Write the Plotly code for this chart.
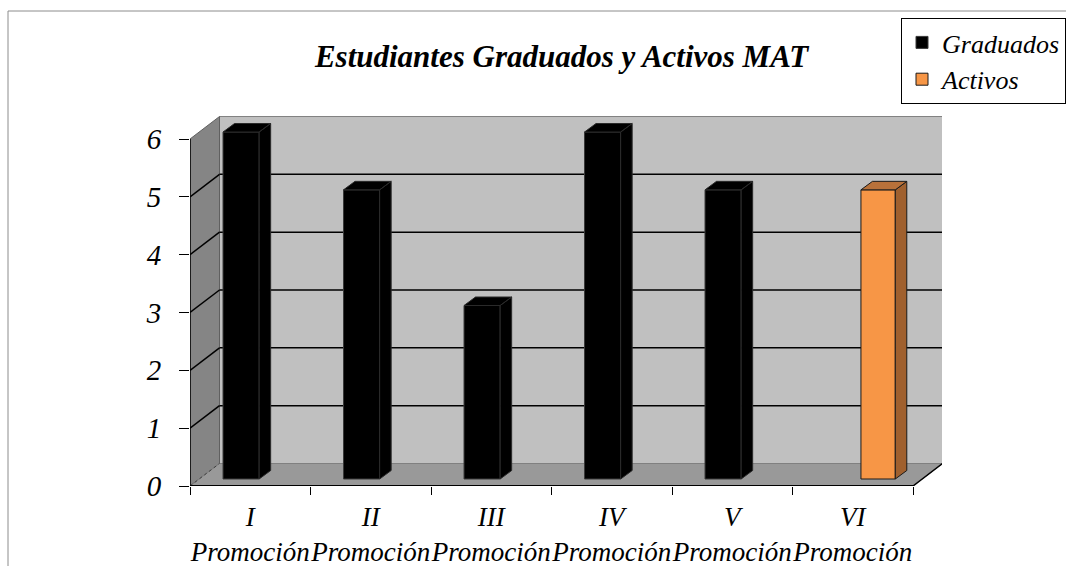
import plotly.graph_objects as go

# ---------------- data ----------------
categories = ["I<br>Promoción", "II<br>Promoción", "III<br>Promoción",
              "IV<br>Promoción", "V<br>Promoción", "VI<br>Promoción"]
graduados = [6, 5, 3, 6, 5, None]
activos = [None, None, None, None, None, 5]
y_ticks = [0, 1, 2, 3, 4, 5, 6]

# ---------------- layout constants ----------------
W, H = 1066, 566
ML, MR, MT, MB = 190, 124, 116, 80
PW, PH = W - ML - MR, H - MT - MB
XU = 120.5            # px per category
YU = 57.83            # px per unit
XR = [-0.5, -0.5 + PW / XU]
YR = [0, PH / YU]
BAR_SHIFT = 7 / YU    # front faces of bars sit slightly behind the axis
Y2R = [YR[0] - BAR_SHIFT, YR[1] - BAR_SHIFT]
DXW, DYW = 29.5 / XU, 22.5 / YU   # wall depth
BDX, BDY = 11.5 / XU, 8.5 / YU    # bar depth

FONT = "Liberation Serif"
idx = list(range(len(categories)))
n = len(categories)
top = max(y_ticks)


def px(x):
    return (x - ML) / PW


def py(y):
    return (H - MB - y) / PH


fig = go.Figure()

G_OFF, G_W = -0.226, 0.30
A_OFF, A_W = 0.068, 0.285

fig.add_trace(go.Bar(name="Graduados", x=idx, y=graduados, yaxis="y2",
                     offset=G_OFF, width=G_W,
                     marker=dict(color="#000000", line=dict(color="#3a3a3a", width=1)),
                     hoverinfo="skip"))
fig.add_trace(go.Bar(name="Activos", x=idx, y=activos, yaxis="y2",
                     offset=A_OFF, width=A_W,
                     marker=dict(color="#F79646", line=dict(color="#1a1a1a", width=1)),
                     hoverinfo="skip"))


def extrusion(values, off, w):
    sx, sy, tx, ty = [], [], [], []
    for i, v in zip(idx, values):
        if v is None:
            continue
        l, r = i + off, i + off + w
        # side face
        sx += [r, r + BDX, r + BDX, r, r, None]
        sy += [0, BDY, v + BDY, v, 0, None]
        # top face
        tx += [l, r, r + BDX, l + BDX, l, None]
        ty += [v, v, v + BDY, v + BDY, v, None]
    return sx, sy, tx, ty


sx, sy, tx, ty = extrusion(graduados, G_OFF, G_W)
fig.add_trace(go.Scatter(x=sx + tx, y=sy + ty, yaxis="y2", mode="lines", fill="toself",
                         fillcolor="#000000", line=dict(color="#2a2a2a", width=1),
                         showlegend=False, hoverinfo="skip"))
sx, sy, tx, ty = extrusion(activos, A_OFF, A_W)
fig.add_trace(go.Scatter(x=sx, y=sy, yaxis="y2", mode="lines", fill="toself",
                         fillcolor="#A0602E", line=dict(color="#1a1a1a", width=1),
                         showlegend=False, hoverinfo="skip"))
fig.add_trace(go.Scatter(x=tx, y=ty, yaxis="y2", mode="lines", fill="toself",
                         fillcolor="#B8713A", line=dict(color="#1a1a1a", width=1),
                         showlegend=False, hoverinfo="skip"))

# ---------------- 3D walls ----------------
x0, x1 = -0.5, n - 0.5
shapes = []
# back wall
shapes.append(dict(type="rect", xref="x", yref="y", x0=x0 + DXW, x1=x1 + DXW,
                   y0=DYW, y1=top + DYW, fillcolor="#C0C0C0",
                   line=dict(color="#808080", width=1), layer="below"))
# side wall
shapes.append(dict(type="path", xref="x", yref="y",
                   path=f"M {x0},0 L {x0},{top} L {x0 + DXW},{top + DYW} L {x0 + DXW},{DYW} Z",
                   fillcolor="#858585", line=dict(color="#606060", width=1), layer="below"))
# floor
shapes.append(dict(type="path", xref="x", yref="y",
                   path=f"M {x0},0 L {x0 + DXW},{DYW} L {x1 + DXW},{DYW} L {x1},0 Z",
                   fillcolor="#999999", line=dict(color="#808080", width=1), layer="below"))
# gridlines
for v in y_ticks:
    if v == 0:
        shapes.append(dict(type="line", xref="x", yref="y", x0=x0, y0=0, x1=x0 + DXW, y1=DYW,
                           line=dict(color="#404040", width=1, dash="dot"), layer="below"))
        continue
    if v == top:
        continue
    shapes.append(dict(type="line", xref="x", yref="y", x0=x0 + DXW, y0=v + DYW,
                       x1=x1 + DXW, y1=v + DYW, line=dict(color="#000000", width=1.5),
                       layer="below"))
    shapes.append(dict(type="line", xref="x", yref="y", x0=x0, y0=v, x1=x0 + DXW, y1=v + DYW,
                       line=dict(color="#000000", width=1.5), layer="below"))
# front floor edge and right edge
shapes.append(dict(type="line", xref="x", yref="y", x0=x0, y0=0, x1=x1, y1=0,
                   line=dict(color="#000000", width=2)))
shapes.append(dict(type="line", xref="x", yref="y", x0=x1, y0=0, x1=x1 + DXW, y1=DYW,
                   line=dict(color="#000000", width=1.5)))
# y axis line
shapes.append(dict(type="line", xref="x", yref="y", x0=x0, y0=0, x1=x0, y1=top,
                   line=dict(color="#000000", width=1.5)))
# chart area border (left and top)
shapes.append(dict(type="line", xref="paper", yref="paper", x0=px(8), y0=py(11),
                   x1=px(W), y1=py(11), line=dict(color="#8c8c8c", width=1)))
shapes.append(dict(type="line", xref="paper", yref="paper", x0=px(8), y0=py(11),
                   x1=px(8), y1=py(H), line=dict(color="#8c8c8c", width=1)))

fig.update_layout(
    width=W, height=H,
    margin=dict(l=ML, r=MR, t=MT, b=MB, autoexpand=False),
    paper_bgcolor="white", plot_bgcolor="white",
    barmode="overlay",
    shapes=shapes,
    title=dict(text="Estudiantes Graduados y Activos MAT",
               font=dict(family=FONT, size=31, color="black", weight="bold", style="italic"),
               x=px(561.5), xref="paper", xanchor="center",
               y=1 - 56 / H, yref="container", yanchor="middle"),
    xaxis=dict(range=XR, tickmode="array", tickvals=idx, ticktext=categories,
               tickangle=0,
               showgrid=False, zeroline=False, showline=False, ticks="",
               ticklabelstandoff=12,
               tickfont=dict(family=FONT, size=27, color="black", style="italic"),
               minor=dict(tickmode="array", tickvals=[i - 0.5 for i in range(n + 1)],
                          ticks="outside", ticklen=8, tickcolor="black", tickwidth=1)),
    yaxis=dict(range=YR, tickmode="array", tickvals=y_ticks,
               showgrid=False, zeroline=False, showline=False,
               ticks="outside", ticklen=10, tickcolor="black", tickwidth=1,
               ticklabelstandoff=12,
               tickfont=dict(family=FONT, size=29, color="black", style="italic")),
    yaxis2=dict(range=Y2R, overlaying="y", visible=False, showgrid=False, zeroline=False),
    legend=dict(x=px(901), y=py(18), xanchor="left", yanchor="top",
                bordercolor="black", borderwidth=1, bgcolor="white",
                font=dict(family=FONT, size=26, color="black", style="italic"),
                tracegroupgap=0),
    showlegend=True,
)

fig.write_html("out.html",
               config={"displayModeBar": False},
               post_script="document.body.style.margin='0px';document.body.style.overflow='hidden';")
